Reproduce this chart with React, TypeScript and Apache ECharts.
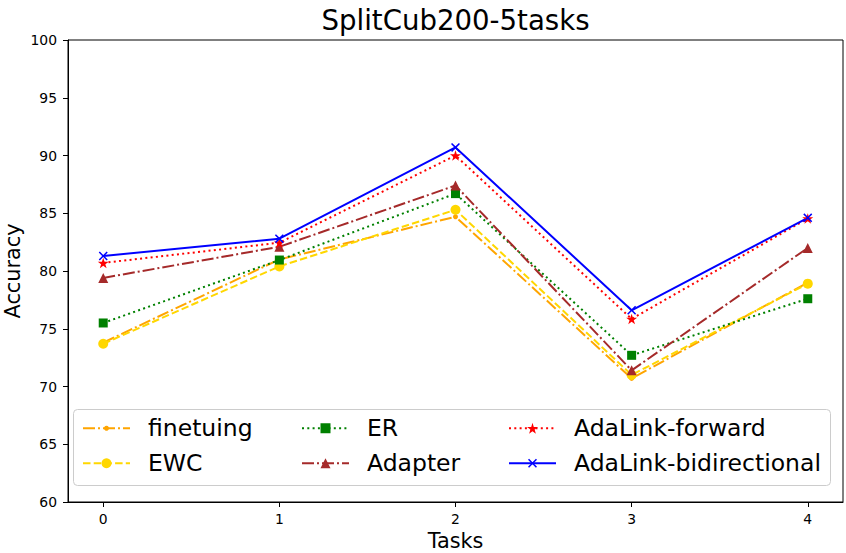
import React, { useEffect, useRef } from "react";
import * as echarts from "echarts";

const tasks = [0, 1, 2, 3, 4];
const yTicks = [60, 65, 70, 75, 80, 85, 90, 95, 100];

const finetuning = [73.8, 81.0, 84.7, 70.7, 79.0];
const ewc = [73.7, 80.4, 85.3, 71.0, 78.9];
const er = [75.5, 80.95, 86.7, 72.7, 77.6];
const adapter = [79.4, 82.1, 87.4, 71.4, 82.0];
const adaForward = [80.7, 82.45, 90.0, 75.85, 84.55];
const adaBidir = [81.3, 82.8, 90.7, 76.6, 84.6];

const FONT = "DejaVu Sans";
const STAR =
  "path://M50,0 L61.2,34.5 L97.6,34.5 L68.2,55.9 L79.4,90.5 L50,69.1 L20.6,90.5 L31.8,55.9 L2.4,34.5 L38.8,34.5 Z";
const XMARK =
  "path://M0,1.2 L1.2,0 L5,3.8 L8.8,0 L10,1.2 L6.2,5 L10,8.8 L8.8,10 L5,6.2 L1.2,10 L0,8.8 L3.8,5 Z";

type Spec = {
  name: string;
  data: number[];
  color: string;
  dash: any;
  symbol: string;
  size: number;
  legendSize: number;
};

const specs: Spec[] = [
  { name: "finetuing", data: finetuning, color: "#FFA500", dash: [12, 3, 2, 3], symbol: "circle", size: 5, legendSize: 5 },
  { name: "EWC", data: ewc, color: "#FFD700", dash: [7.5, 3.2], symbol: "circle", size: 10, legendSize: 10 },
  { name: "ER", data: er, color: "#008000", dash: [2, 3.3], symbol: "rect", size: 9, legendSize: 10 },
  { name: "Adapter", data: adapter, color: "#A52A2A", dash: [12, 3, 2, 3], symbol: "triangle", size: 10, legendSize: 10 },
  { name: "AdaLink-forward", data: adaForward, color: "#FF0000", dash: [2, 3.3], symbol: STAR, size: 11, legendSize: 11 },
  { name: "AdaLink-bidirectional", data: adaBidir, color: "#0000FF", dash: "solid", symbol: XMARK, size: 9, legendSize: 9 },
];

const legendCols = [82, 82, 301, 301, 508, 508];
const legendRows = [428, 463, 428, 463, 428, 463];

export default function App() {
  const ref = useRef<HTMLDivElement>(null);
  useEffect(() => {
    if (!ref.current) return;
    const chart = echarts.init(ref.current, null, { renderer: "svg" });
    const fs = 23.5;
    chart.setOption({
      animation: false,
      backgroundColor: "#fff",
      textStyle: { fontFamily: FONT },
      title: {
        text: "SplitCub200-5tasks",
        left: 455.5,
        textAlign: "center",
        top: 6,
        padding: 0,
        textStyle: { fontFamily: FONT, fontSize: 27.6, fontWeight: "normal", color: "#000" },
      },
      grid: {
        left: 68,
        right: 3,
        top: 40,
        bottom: 51,
        outerBoundsMode: "none",
        containLabel: false,
        show: true,
        borderColor: "#000",
        borderWidth: 1,
        backgroundColor: "transparent",
      },
      xAxis: {
        type: "value",
        min: -0.2,
        max: 4.2,
        name: "Tasks",
        nameLocation: "middle",
        nameGap: 28,
        nameMoveOverlap: false,
        nameTextStyle: { fontFamily: FONT, fontSize: 20.8, color: "#000" },
        axisLine: { show: true, onZero: false, lineStyle: { color: "#000", width: 1 } },
        axisTick: { show: true, length: 5, customValues: tasks, lineStyle: { color: "#000" } },
        axisLabel: { customValues: tasks, margin: 10, fontFamily: FONT, fontSize: 13.9, color: "#000" },
        splitLine: { show: false },
      },
      yAxis: {
        type: "value",
        min: 60,
        max: 100,
        interval: 5,
        name: "Accuracy",
        nameLocation: "middle",
        nameGap: 45,
        nameMoveOverlap: false,
        nameTextStyle: { fontFamily: FONT, fontSize: 20.8, color: "#000" },
        axisLine: { show: true, onZero: false, lineStyle: { color: "#000", width: 1 } },
        axisTick: { show: true, length: 5, lineStyle: { color: "#000" } },
        axisLabel: {
          margin: 11,
          fontFamily: FONT,
          fontSize: 13.9,
          color: "#000",
          formatter: (v: number) => (yTicks.includes(v) ? String(v) : ""),
        },
        splitLine: { show: false },
      },
      legend: specs.map((s, i) => ({
        orient: "vertical",
        left: legendCols[i],
        top: legendRows[i] - fs / 2,
        padding: 0,
        itemWidth: 47,
        itemHeight: s.legendSize / 0.8,
        selectedMode: false,
        z: 20,
        data: [s.name],
        textStyle: { fontFamily: FONT, fontSize: fs, lineHeight: fs, color: "#000", padding: [0, 0, 0, 13] },
      })),
      graphic: [
        {
          type: "rect",
          z: 10,
          shape: { x: 73.5, y: 409.5, width: 757, height: 76, r: 4 },
          style: { fill: "rgba(255,255,255,0.8)", stroke: "#cccccc", lineWidth: 1 },
        },
      ],
      series: specs.map((s) => ({
        name: s.name,
        type: "line",
        data: tasks.map((t, i) => [t, s.data[i]]),
        symbol: s.symbol,
        symbolSize: s.size,
        symbolKeepAspect: true,
        showAllSymbol: true,
        color: s.color,
        lineStyle: { color: s.color, width: 2, type: s.dash },
        itemStyle: { color: s.color, borderWidth: 0 },
        emphasis: { disabled: true },
      })),
    });
    return () => chart.dispose();
  }, []);
  return <div ref={ref} style={{ width: 846, height: 553, position: "absolute", left: 0, top: 0 }} />;
}
